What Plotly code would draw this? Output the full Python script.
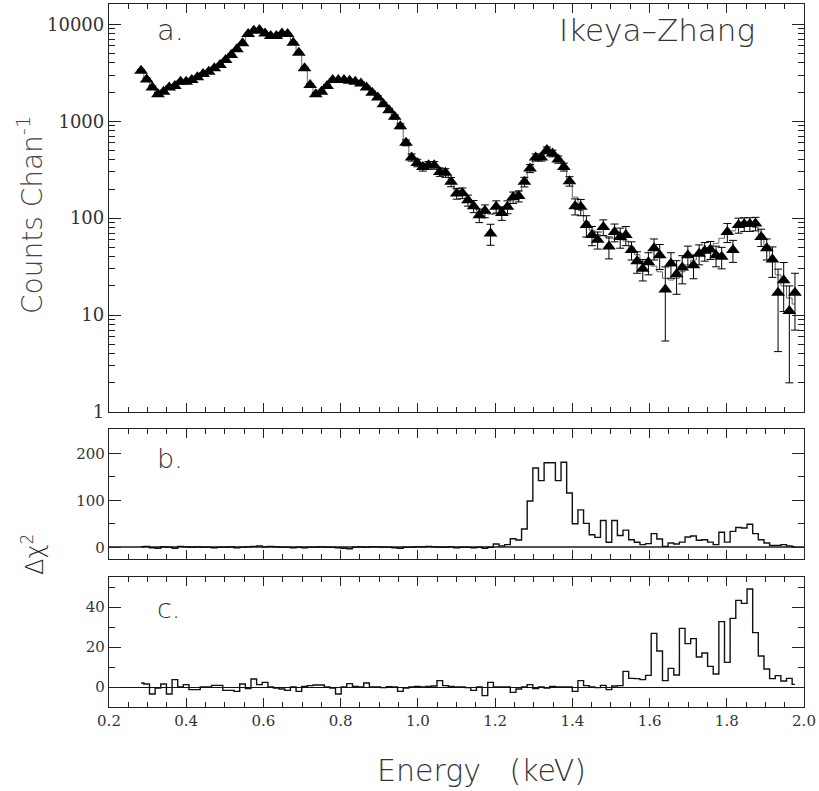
import plotly.graph_objects as go

# ---------------- data ----------------
energy = [
    0.2830, 0.2976, 0.3122, 0.3268, 0.3414, 0.3560, 0.3706, 0.3852, 0.3998, 0.4144,
    0.4290, 0.4436, 0.4582, 0.4728, 0.4874, 0.5020, 0.5166, 0.5312, 0.5458, 0.5604,
    0.5750, 0.5896, 0.6042, 0.6188, 0.6334, 0.6480, 0.6626, 0.6772, 0.6918, 0.7064,
    0.7210, 0.7356, 0.7502, 0.7648, 0.7794, 0.7940, 0.8086, 0.8232, 0.8378, 0.8524,
    0.8670, 0.8816, 0.8962, 0.9108, 0.9254, 0.9400, 0.9546, 0.9692, 0.9838, 0.9984,
    1.0130, 1.0276, 1.0422, 1.0568, 1.0714, 1.0860, 1.1006, 1.1152, 1.1298, 1.1444,
    1.1590, 1.1736, 1.1882, 1.2028, 1.2174, 1.2320, 1.2466, 1.2612, 1.2758, 1.2904,
    1.3050, 1.3196, 1.3342, 1.3488, 1.3634, 1.3780, 1.3926, 1.4072, 1.4218, 1.4364,
    1.4510, 1.4656, 1.4802, 1.4948, 1.5094, 1.5240, 1.5386, 1.5532, 1.5678, 1.5824,
    1.5970, 1.6116, 1.6262, 1.6408, 1.6554, 1.6700, 1.6846, 1.6992, 1.7138, 1.7284,
    1.7430, 1.7576, 1.7722, 1.7868, 1.8014, 1.8160, 1.8306, 1.8452, 1.8598, 1.8744,
    1.8890, 1.9036, 1.9182, 1.9328, 1.9474, 1.9620, 1.9766,
]

counts = [
    3320, 2700, 2235, 1905, 2015, 2235, 2305, 2555, 2555, 2660,
    2840, 3070, 3240, 3515, 3800, 4280, 4820, 5520, 6370, 7940,
    8590, 8730, 8070, 7570, 7570, 8070, 7940, 6460, 5090, 3515,
    2360, 1905, 2015, 2305, 2660, 2660, 2660, 2620, 2555, 2460,
    2235, 1970, 1760, 1500, 1300, 1110, 890, 600, 424, 372,
    338, 352, 352, 300, 294, 237, 180, 182, 153, 133,
    107, 119, 69.5, 131, 113, 131, 164, 169, 237, 326,
    424, 424, 504, 466, 404, 338, 241, 133, 131, 85,
    67, 60, 81, 51, 72, 64, 67, 47, 36, 30,
    35, 49, 41.5, 18.4, 34, 26.4, 31, 41.5, 32.7, 43,
    46, 47.5, 41.5, 40, 72, 47, 85, 87, 87, 88,
    64, 49, 37.5, 17, 22.9, 11, 17,
]

count_err = [
    100, 90, 82, 76, 78, 82, 83, 88, 88, 89,
    92, 96, 99, 103, 107, 113, 120, 129, 138, 154,
    160, 162, 156, 151, 151, 156, 154, 139, 124, 103,
    84, 76, 78, 83, 89, 89, 89, 89, 88, 86,
    82, 77, 73, 67, 62, 58, 52, 42, 36, 33,
    32, 32, 32, 30, 30, 26, 23, 23, 20, 19,
    17, 18, 17, 20, 18, 20, 22, 22, 27, 31,
    36, 36, 39, 37, 35, 32, 27, 25, 25, 21,
    15, 12, 15, 13, 15, 15, 15, 10, 9, 7.5,
    9, 12, 12, 13, 10, 10, 10, 10, 9, 10,
    10, 10, 10, 10, 16, 12, 15, 14, 14, 14,
    13, 12, 13, 12.8, 12, 9, 10,
]

model = [
    3300, 2700, 2250, 1950, 2000, 2200, 2330, 2500, 2580, 2680,
    2850, 3050, 3250, 3500, 3800, 4280, 4820, 5520, 6370, 7800,
    8500, 8600, 8100, 7700, 7600, 8000, 7900, 6500, 5100, 3500,
    2380, 1950, 2000, 2300, 2620, 2680, 2680, 2620, 2550, 2450,
    2240, 1980, 1760, 1510, 1300, 1100, 880, 610, 440, 370,
    345, 345, 340, 305, 280, 235, 195, 175, 152, 133,
    118, 112, 110, 115, 122, 135, 160, 190, 240, 320,
    400, 440, 460, 450, 400, 330, 240, 165, 120, 92,
    75, 68, 66, 62, 62, 60, 58, 50, 42, 36,
    34, 32, 28, 24, 23, 24, 28, 33, 37, 41,
    46, 50, 55, 62, 68, 74, 80, 84, 84, 80,
    68, 52, 38, 26, 20, 15, 13,
]

dchi2_b = [
    1, 2, -1, -2, 1, 0, -2, 2, 1, 0,
    1, 0, 0, -1, 0, 0, 1, -1, 0, 1,
    2, 3, 1, 2, 1, 0, 0, -1, 0, -1,
    0, 0, 1, 0, 0, -1, -2, -3, 0, 1,
    0, 1, 1, 0, 0, -1, -2, 0, 0, 1,
    1, 2, 1, 0, 0, 1, -1, 0, 0, -1,
    0, -2, 0, 7, 3, 5.6, 18, 15.5, 39, 98.6,
    169, 142, 180, 180, 142, 181, 115.5, 50, 79.6, 51,
    26.8, 21, 57, 10.6, 57, 25, 36.6, 16, 10.6, 5.6,
    7.7, 29, 17.6, 2, 9, 7, 11, 21.8, 24, 14.8,
    16, 11, 5.6, 32, 11, 33.8, 42, 41, 49, 29,
    16, 9, 4, 4, 5.6, 3, 1,
]

dchi2_c = [
    2, 1.5, -3.5, -0.5, 1.5, -3.5, 3.7, 0, 1.2, -1.3,
    -1.3, 0, 0, 0.8, 0.8, -1.7, -1.7, -2.2, 1.5, -0.8,
    4, 1.2, 2.3, 0, -0.5, -1, -1.7, 0, -2.2, 0.3,
    0.7, 1, 1, 0, -0.5, -3.5, 0, 1.7, 0.3, 0,
    2, 0, 0, -0.3, 0.2, 0, -2.2, -0.5, 0, 0.3,
    0, 0.3, 0.5, 3.2, 0.7, 0.3, 0, 0, -0.3, -1.7,
    0, -4.3, 2.3, 0, 0, 0, -2.7, -1, 0, 1.2,
    -0.8, 0, -0.5, 0.3, 0, 0, 0, -2.2, 3.2, 0.7,
    0, -0.3, 0.8, -1.3, 0.5, 0.7, 7.8, 4.3, 4.2, 3.7,
    5.8, 26.8, 18, 3.2, 9.3, 6, 29.3, 21.7, 24.2, 15,
    17, 10.3, 6.5, 32.7, 12.3, 34.3, 43.3, 41.8, 49, 27.2,
    15.5, 9, 4.2, 5.7, 3, 4.3, 1.3,
]

x_ticks = [0.2, 0.4, 0.6, 0.8, 1.0, 1.2, 1.4, 1.6, 1.8, 2.0]
x_ticklabels = ["0.2", "0.4", "0.6", "0.8", "1.0", "1.2", "1.4", "1.6", "1.8", "2.0"]
ya_ticks = [1, 10, 100, 1000, 10000]
ya_ticklabels = ["1", "10", "100", "1000", "10000"]
yb_ticks = [0, 100, 200]
yc_ticks = [0, 20, 40]

# ---------------- figure ----------------
TXT = "DejaVu Sans ExtraLight, DejaVu Sans Light, Lato, DejaVu Sans, sans-serif"
NUM = "DejaVu Serif, Liberation Serif, serif"
INK = "#222222"
NUMC = "#333333"

fig = go.Figure()

fig.add_trace(go.Scatter(
    x=energy, y=model, mode="lines", line=dict(color="#666666", width=1, shape="hvh"),
    xaxis="x", yaxis="y", showlegend=False, hoverinfo="skip"))
fig.add_trace(go.Scatter(
    x=energy, y=counts, mode="markers",
    marker=dict(symbol="triangle-up", size=12, color="black"),
    error_y=dict(type="data", array=count_err, color="black", thickness=1, width=4),
    xaxis="x", yaxis="y", showlegend=False))
fig.add_trace(go.Scatter(
    x=energy, y=dchi2_b, mode="lines", line=dict(color="#111111", width=1.4, shape="hvh"),
    xaxis="x2", yaxis="y2", showlegend=False))
fig.add_trace(go.Scatter(
    x=energy, y=dchi2_c, mode="lines", line=dict(color="#111111", width=1.4, shape="hvh"),
    xaxis="x3", yaxis="y3", showlegend=False))

L, R, T, B = 109, 15, 4, 84
W, H = 819, 791
ph = H - T - B


def dom(top_px, bot_px):
    return [(H - B - bot_px) / ph, (H - B - top_px) / ph]


common_x = dict(range=[0.2, 2.0], tickmode="array", tickvals=x_ticks, ticktext=x_ticklabels,
                ticks="inside", ticklen=9, tickcolor=INK, tickwidth=1,
                minor=dict(dtick=0.05, ticks="inside", ticklen=5, tickcolor=INK),
                showline=True, linecolor=INK, linewidth=1.3, mirror="allticks",
                showgrid=False, zeroline=False,
                tickfont=dict(family=NUM, size=15, color=NUMC))

minor_log = [k * 10 ** d for d in range(0, 5) for k in range(2, 10)]

fig.update_layout(
    width=W, height=H, autosize=False,
    margin=dict(l=L, r=R, t=T, b=B),
    paper_bgcolor="white", plot_bgcolor="white",
    xaxis=dict(common_x, anchor="y", showticklabels=False),
    xaxis2=dict(common_x, anchor="y2", showticklabels=False, matches="x"),
    xaxis3=dict(common_x, anchor="y3", showticklabels=True, matches="x"),
    yaxis=dict(type="log", range=[0, 4.21], domain=dom(4, 412),
               tickmode="array", tickvals=ya_ticks, ticktext=ya_ticklabels,
               ticks="inside", ticklen=12, tickcolor=INK,
               minor=dict(tickvals=minor_log, ticks="inside", ticklen=6, tickcolor=INK),
               showline=True, linecolor=INK, linewidth=1.3, mirror="allticks",
               showgrid=False, zeroline=False,
               tickfont=dict(family=NUM, size=18, color=NUMC)),
    yaxis2=dict(range=[-25, 252], domain=dom(429, 559),
                tickmode="array", tickvals=yb_ticks,
                ticks="inside", ticklen=12, tickcolor=INK,
                minor=dict(dtick=50, ticks="inside", ticklen=6, tickcolor=INK),
                showline=True, linecolor=INK, linewidth=1.3, mirror="allticks",
                showgrid=False, zeroline=True, zerolinecolor="#555555", zerolinewidth=1.8,
                tickfont=dict(family=NUM, size=15, color=NUMC)),
    yaxis3=dict(range=[-10, 55], domain=dom(577, 707),
                tickmode="array", tickvals=yc_ticks,
                ticks="inside", ticklen=12, tickcolor=INK,
                minor=dict(dtick=10, ticks="inside", ticklen=6, tickcolor=INK),
                showline=True, linecolor=INK, linewidth=1.3, mirror="allticks",
                showgrid=False, zeroline=True, zerolinecolor="#111111", zerolinewidth=1.2,
                tickfont=dict(family=NUM, size=15, color=NUMC)),
)


def px_x(p):
    return (p - L) / (W - L - R)


def px_y(p):
    return (H - B - p) / ph


ann = [
    dict(text="a.", x=px_x(155), y=px_y(30), xanchor="left", yanchor="middle", size=29),
    dict(text="Ikeya–Zhang", x=px_x(757), y=px_y(30), xanchor="right", yanchor="middle", size=31),
    dict(text="b.", x=px_x(155), y=px_y(458), xanchor="left", yanchor="middle", size=27),
    dict(text="c.", x=px_x(155), y=px_y(608), xanchor="left", yanchor="middle", size=27),
    dict(text="Energy   (keV)", x=px_x(481), y=px_y(770), xanchor="center", yanchor="middle", size=30),
]
for a in ann:
    fig.add_annotation(text=a["text"], xref="paper", yref="paper", x=a["x"], y=a["y"],
                       xanchor=a["xanchor"], yanchor=a["yanchor"], showarrow=False,
                       font=dict(family=TXT, size=a["size"], color="#333333"))

fig.add_annotation(text="Counts Chan<sup>-1</sup>", xref="paper", yref="paper",
                   x=px_x(31), y=px_y(215), textangle=-90, showarrow=False,
                   xanchor="center", yanchor="middle",
                   font=dict(family=TXT, size=28, color="#444444"))
fig.add_annotation(text="Δχ<sup>2</sup>", xref="paper", yref="paper",
                   x=px_x(33), y=px_y(555), textangle=-90, showarrow=False,
                   xanchor="center", yanchor="middle",
                   font=dict(family=TXT, size=24, color="#222222"))

fig.write_html("out.html", config={"displayModeBar": False},
               post_script="document.body.style.margin='0';document.body.style.overflow='hidden';")
